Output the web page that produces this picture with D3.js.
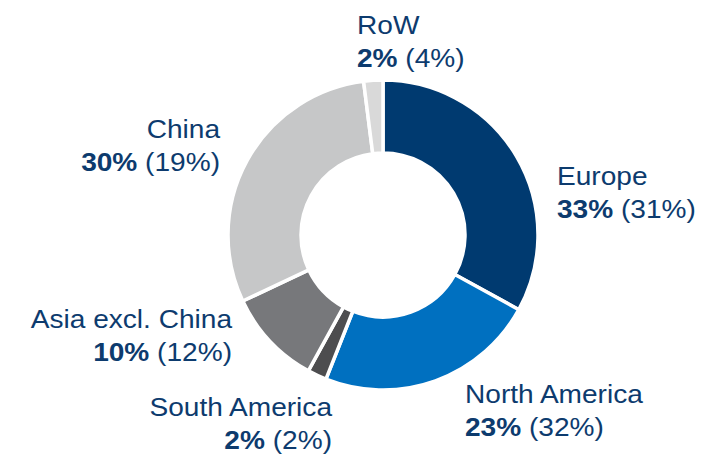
<!DOCTYPE html>
<html><head><meta charset="utf-8">
<script src="https://cdn.jsdelivr.net/npm/d3@7"></script>
<style>html,body{margin:0;padding:0;background:#fff;}svg{display:block;font-family:"Liberation Sans",Arial,sans-serif;}</style>
</head><body>
<svg id="chart" width="702" height="455"></svg>
<script>
const regions = ["Europe","North America","South America","Asia excl. China","China","RoW"];
const shares = [33,23,2,10,30,2];
const prior = [31,32,2,12,19,4];
const colors = ["#003a70","#0070c0","#4d4d4f","#77787b","#c6c7c8","#d9d9d9"];

const svg = d3.select("#chart");
const cx = 383, cy = 235, rOuter = 155, rInner = 82;
const g = svg.append("g").attr("transform",`translate(${cx},${cy})`);
const pie = d3.pie().sort(null).value(d=>d)(shares);
const arc = d3.arc().innerRadius(rInner).outerRadius(rOuter);
g.selectAll("path").data(pie).join("path")
  .attr("d",arc).attr("fill",(d,i)=>colors[i])
  .attr("stroke","#fff").attr("stroke-width",3.5).attr("stroke-linejoin","miter");

// label anchors (layout)
const labelPos = [
  {x:557,y:185,anchor:"start"},
  {x:465,y:403,anchor:"start"},
  {x:332,y:416,anchor:"end"},
  {x:232,y:328,anchor:"end"},
  {x:220,y:138,anchor:"end"},
  {x:357,y:34,anchor:"start"}
];
const lh = 33;
const sx = 1.08;
regions.forEach((name,i)=>{
  const p = labelPos[i];
  const lg = svg.append("g").attr("transform",`translate(${p.x},0) scale(${sx},1)`);
  const t = lg.append("text").attr("x",0).attr("y",p.y).attr("text-anchor",p.anchor)
    .attr("fill","#0d3b6e").attr("font-size",26);
  t.append("tspan").text(name);
  const t2 = lg.append("text").attr("x",0).attr("y",p.y+lh).attr("text-anchor",p.anchor)
    .attr("fill","#0d3b6e").attr("font-size",26);
  t2.append("tspan").attr("font-weight","bold").text(shares[i]+"%");
  t2.append("tspan").text(" ("+prior[i]+"%)");
});
</script>
</body></html>
